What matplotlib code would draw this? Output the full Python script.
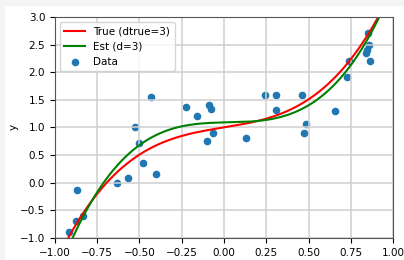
import matplotlib
matplotlib.use("Agg")
import matplotlib.pyplot as plt
import numpy as np
from matplotlib.patches import Rectangle

x_data = [-0.917, -0.868, -0.878, -0.836, -0.631, -0.570, -0.529, -0.505,
          -0.479, -0.432, -0.402, -0.225, -0.158, -0.099, -0.087, -0.075,
          -0.063, 0.128, 0.243, 0.308, 0.308, 0.464, 0.475, 0.485,
          0.659, 0.728, 0.738, 0.838, 0.844, 0.854, 0.858, 0.864]
y_data = [-0.886, -0.137, -0.686, -0.596, -0.010, 0.080, 1.015, 0.713,
          0.357, 1.546, 0.158, 1.365, 1.202, 0.762, 1.401, 1.330,
          0.906, 0.816, 1.582, 1.582, 1.311, 1.582, 0.906, 1.057,
          1.293, 1.914, 2.210, 2.342, 2.400, 2.717, 2.490, 2.204]

# cubic coefficients, highest power first
coef_true = [2.0, 0.03, 0.5, 1.0]
coef_est = [2.6, -0.2, 0.07, 1.09]

xlim = (-1.0, 1.0)
ylim = (-1.0, 3.0)


def main():
    plt.rcParams['font.size'] = 7.5
    fig = plt.figure(figsize=(4.04, 2.60), dpi=100)
    # notebook-style grey margin at top/left
    fig.patches.append(Rectangle((0, 0.98), 1, 0.02, transform=fig.transFigure,
                                 color='#f4f4f4', zorder=-1))
    fig.patches.append(Rectangle((0, 0), 0.01, 1, transform=fig.transFigure,
                                 color='#f4f4f4', zorder=-1))
    ax = fig.add_axes([0.136, 0.085, 0.837, 0.85])

    xs = np.linspace(-1, 1, 400)
    ax.plot(xs, np.polyval(coef_true, xs), color='red', lw=1.5, label='True (dtrue=3)')
    ax.plot(xs, np.polyval(coef_est, xs), color='green', lw=1.5, label='Est (d=3)')
    ax.scatter(x_data, y_data, s=20, label='Data')

    ax.set_xlim(*xlim)
    ax.set_ylim(*ylim)
    ax.set_ylabel('y', labelpad=1)
    ax.grid(True, color='#cfcfcf', lw=1.1)
    for sp in ax.spines.values():
        sp.set_color('#555555')
    ax.legend(loc='upper left')

    fig.savefig('out.png', dpi=100)


if __name__ == '__main__':
    main()
